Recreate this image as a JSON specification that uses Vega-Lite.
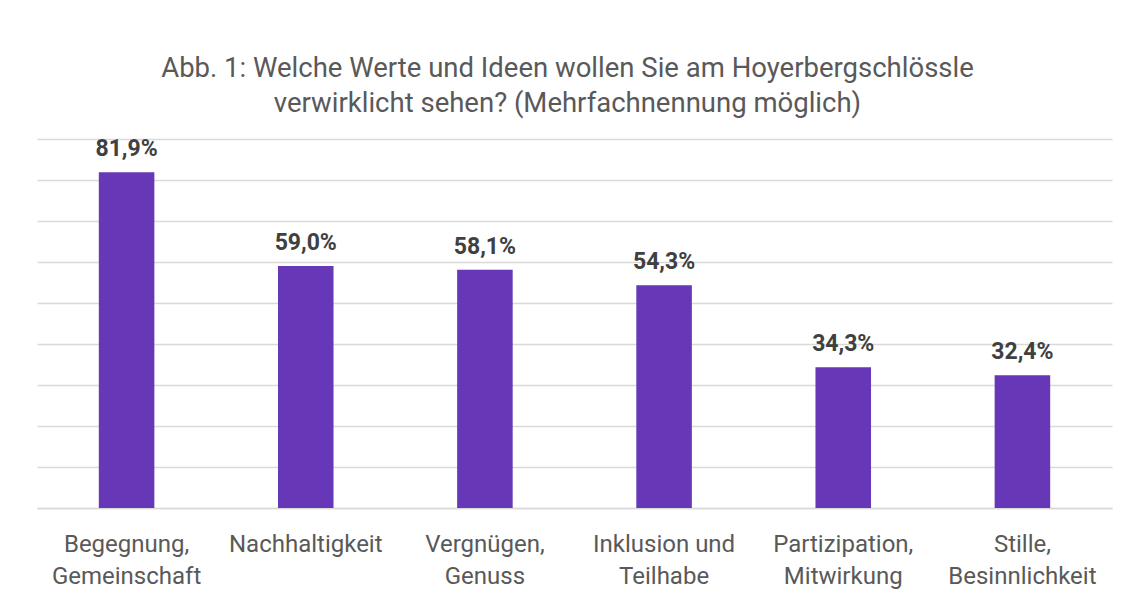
{
  "$schema": "https://vega.github.io/schema/vega-lite/v6.json",
  "width": 1075,
  "height": 369,
  "autosize": "none",
  "padding": {"left": 37, "top": 139, "right": 22, "bottom": 90},
  "background": "white",
  "config": {
    "locale": {"number": {"decimal": ",", "thousands": ".", "grouping": [3], "currency": ["", " €"]}},
    "view": {"stroke": null},
    "font": "Roboto, sans-serif"
  },
  "title": {
    "text": ["Abb. 1: Welche Werte und Ideen wollen Sie am Hoyerbergschlössle", "verwirklicht sehen? (Mehrfachnennung möglich)"],
    "anchor": "middle",
    "frame": "group",
    "dx": -7,
    "offset": 21,
    "fontSize": 27.5,
    "fontWeight": "normal",
    "color": "#595959",
    "lineHeight": 35,
    "font": "Roboto, sans-serif"
  },
  "data": {
    "values": [
      {"kategorie": "Begegnung,|Gemeinschaft", "anteil": 0.819},
      {"kategorie": "Nachhaltigkeit", "anteil": 0.590},
      {"kategorie": "Vergnügen,|Genuss", "anteil": 0.581},
      {"kategorie": "Inklusion und|Teilhabe", "anteil": 0.543},
      {"kategorie": "Partizipation,|Mitwirkung", "anteil": 0.343},
      {"kategorie": "Stille,|Besinnlichkeit", "anteil": 0.324}
    ]
  },
  "encoding": {
    "x": {
      "field": "kategorie",
      "type": "nominal",
      "sort": null,
      "scale": {"paddingInner": 0.69, "paddingOuter": 0.345},
      "axis": {
        "title": null,
        "labelAngle": 0,
        "labelExpr": "split(datum.label, '|')",
        "labelFontSize": 24,
        "labelColor": "#595959",
        "labelLineHeight": 32,
        "labelBaseline": "top",
        "labelPadding": 24,
        "ticks": false,
        "domainColor": "#d9d9d9",
        "domainWidth": 1.5,
        "labelLimit": 300
      }
    },
    "y": {
      "field": "anteil",
      "type": "quantitative",
      "scale": {"domain": [0, 0.9], "nice": false},
      "axis": {
        "title": null,
        "labels": false,
        "ticks": false,
        "domain": false,
        "values": [0, 0.1, 0.2, 0.3, 0.4, 0.5, 0.6, 0.7, 0.8, 0.9],
        "gridColor": "#d9d9d9",
        "gridWidth": 1.5
      }
    }
  },
  "layer": [
    {"mark": {"type": "bar", "color": "#6637b6"}},
    {
      "mark": {"type": "text", "baseline": "alphabetic", "dy": -16, "fontSize": 23, "fontWeight": "bold", "color": "#404040"},
      "encoding": {"text": {"field": "anteil", "type": "quantitative", "format": ".1%"}}
    }
  ]
}
